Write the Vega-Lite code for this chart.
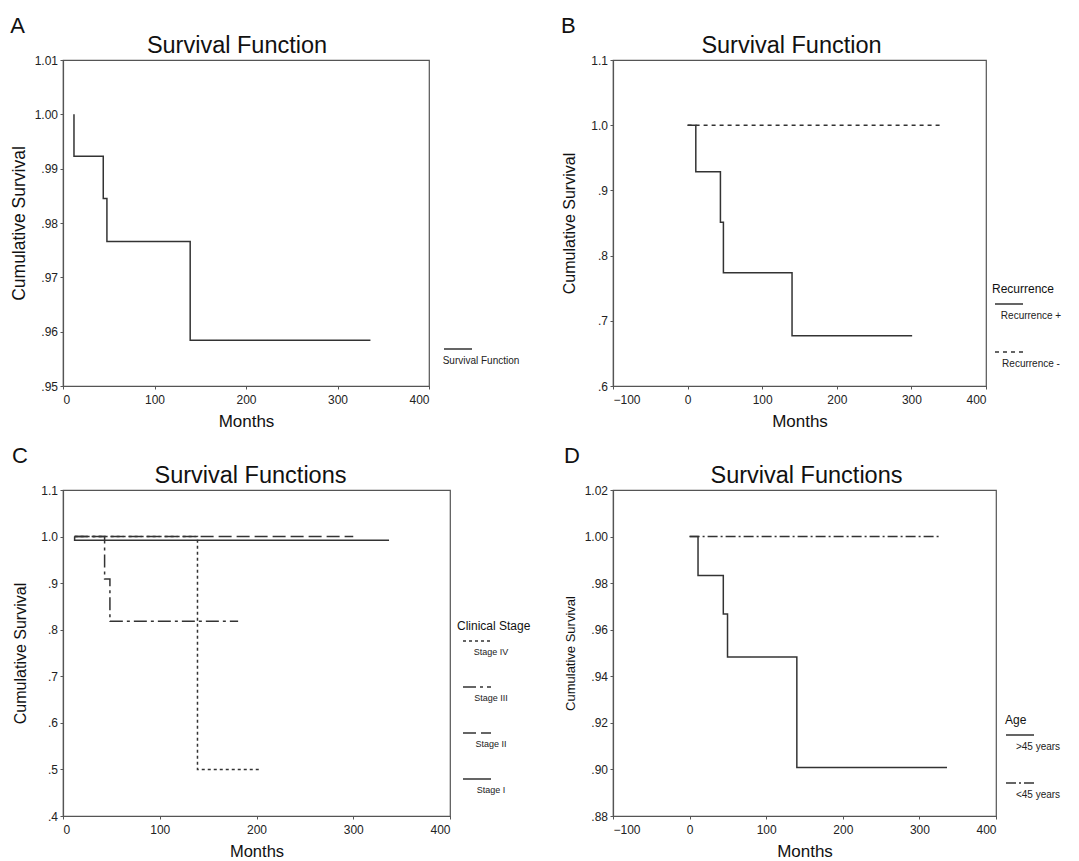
{
  "$schema": "https://vega.github.io/schema/vega-lite/v6.json",
  "background": "white",
  "padding": {"left": 10, "top": 14, "right": 0, "bottom": 0},
  "config": {
    "font": "Liberation Sans",
    "view": {"stroke": "#555", "strokeWidth": 1.2},
    "axis": {"grid": false, "domainColor": "#555", "domainWidth": 1.2, "tickColor": "#555", "tickSize": 3, "labelColor": "#222", "labelFontSize": 12, "labelFont": "Liberation Sans", "titleFont": "Liberation Sans", "titleFontWeight": "normal", "titleColor": "#111"},
    "axisY": {"labelPadding": 2.5, "minExtent": 30, "maxExtent": 30},
    "axisX": {"labelPadding": 5.5, "minExtent": 21, "maxExtent": 21, "titlePadding": 6.5},
    "title": {"font": "Liberation Sans", "fontWeight": "normal", "color": "#111", "fontSize": 23.5},
    "legend": {"labelFont": "Liberation Sans", "labelFontSize": 10, "labelColor": "#222", "titleFont": "Liberation Sans", "titleFontSize": 12, "titleFontWeight": "normal", "titleColor": "#111", "symbolType": "stroke", "symbolSize": 784, "symbolStrokeWidth": 1.5, "symbolStrokeColor": "#333", "labelAlign": "center", "labelBaseline": "middle", "orient": "none", "rowPadding": 4, "titlePadding": -7}
  },
  "resolve": {"scale": {"strokeDash": "independent"}, "legend": {"strokeDash": "independent"}},
  "datasets": {
    "a": [
      {"months": 12, "survival": 1.0, "group": "Survival Function", "i": 0},
      {"months": 12, "survival": 0.9923, "group": "Survival Function", "i": 1},
      {"months": 44, "survival": 0.9845, "group": "Survival Function", "i": 2},
      {"months": 48, "survival": 0.9766, "group": "Survival Function", "i": 3},
      {"months": 139, "survival": 0.9584, "group": "Survival Function", "i": 4},
      {"months": 336, "survival": 0.9584, "group": "Survival Function", "i": 5}
    ],
    "b": [
      {"months": 0, "survival": 1.0, "group": "Recurrence +", "i": 0},
      {"months": 11, "survival": 0.9286, "group": "Recurrence +", "i": 1},
      {"months": 44, "survival": 0.8512, "group": "Recurrence +", "i": 2},
      {"months": 48, "survival": 0.7738, "group": "Recurrence +", "i": 3},
      {"months": 140, "survival": 0.6771, "group": "Recurrence +", "i": 4},
      {"months": 301, "survival": 0.6771, "group": "Recurrence +", "i": 5},
      {"months": 0, "survival": 1.0, "group": "Recurrence -", "i": 0},
      {"months": 339, "survival": 1.0, "group": "Recurrence -", "i": 1}
    ],
    "c": [
      {"months": 12, "survival": 1.0, "group": "Stage I", "i": 0},
      {"months": 12, "survival": 0.992, "group": "Stage I", "i": 1},
      {"months": 337, "survival": 0.992, "group": "Stage I", "i": 2},
      {"months": 12, "survival": 1.0, "group": "Stage II", "i": 0},
      {"months": 300, "survival": 1.0, "group": "Stage II", "i": 1},
      {"months": 12, "survival": 1.0, "group": "Stage III", "i": 0},
      {"months": 43, "survival": 0.909, "group": "Stage III", "i": 1},
      {"months": 48.5, "survival": 0.818, "group": "Stage III", "i": 2},
      {"months": 181, "survival": 0.818, "group": "Stage III", "i": 3},
      {"months": 12, "survival": 1.0, "group": "Stage IV", "i": 0},
      {"months": 139, "survival": 0.5, "group": "Stage IV", "i": 1},
      {"months": 205, "survival": 0.5, "group": "Stage IV", "i": 2}
    ],
    "d": [
      {"months": 0, "survival": 1.0, "group": ">45 years", "i": 0},
      {"months": 11, "survival": 0.9833, "group": ">45 years", "i": 1},
      {"months": 44, "survival": 0.9667, "group": ">45 years", "i": 2},
      {"months": 49.5, "survival": 0.9483, "group": ">45 years", "i": 3},
      {"months": 140, "survival": 0.9008, "group": ">45 years", "i": 4},
      {"months": 336, "survival": 0.9008, "group": ">45 years", "i": 5},
      {"months": 0, "survival": 1.0, "group": "<45 years", "i": 0},
      {"months": 326, "survival": 1.0, "group": "<45 years", "i": 1}
    ]
  },
  "columns": 2,
  "spacing": {"row": 13, "column": 30},
  "concat": [
    {
      "title": {"text": "A", "anchor": "start", "frame": "bounds", "fontSize": 22, "offset": -5},
      "vconcat": [
        {
          "width": 366, "height": 326,
          "title": {"text": "Survival Function", "dx": -9, "offset": -3},
          "data": {"name": "a"},
          "mark": {"type": "line", "interpolate": "step-after", "color": "#333", "strokeWidth": 1.5},
          "encoding": {
            "x": {"field": "months", "type": "quantitative", "scale": {"domain": [0, 400], "nice": false, "zero": false}, "axis": {"values": [0, 100, 200, 300, 400], "format": "d", "title": "Months", "titleFontSize": 17}},
            "y": {"field": "survival", "type": "quantitative", "scale": {"domain": [0.95, 1.01], "nice": false, "zero": false}, "axis": {"values": [0.95, 0.96, 0.97, 0.98, 0.99, 1.0, 1.01], "labelExpr": "datum.value >= 1 ? format(datum.value, '.2f') : substring(format(datum.value, '.2f'), 1)", "title": "Cumulative Survival", "titleFontSize": 17.5, "titlePadding": 4.2}},
            "strokeDash": {"field": "group", "type": "nominal", "scale": {"domain": ["Survival Function"], "range": [[1, 0]]}, "legend": {"title": null, "legendX": 380, "legendY": 274, "labelOffset": 8, "labelExpr": "['', '', datum.label]"}},
            "order": {"field": "i"}
          }
        }
      ]
    },
    {
      "title": {"text": "B", "anchor": "start", "frame": "bounds", "fontSize": 22, "offset": -5},
      "vconcat": [
        {
          "width": 373, "height": 326,
          "title": {"text": "Survival Function", "dx": -8, "offset": -3},
          "data": {"name": "b"},
          "mark": {"type": "line", "interpolate": "step-after", "color": "#333", "strokeWidth": 1.5},
          "encoding": {
            "x": {"field": "months", "type": "quantitative", "scale": {"domain": [-100, 400], "nice": false, "zero": false}, "axis": {"values": [-100, 0, 100, 200, 300, 400], "format": "d", "title": "Months", "titleFontSize": 17}},
            "y": {"field": "survival", "type": "quantitative", "scale": {"domain": [0.6, 1.1], "nice": false, "zero": false}, "axis": {"values": [0.6, 0.7, 0.8, 0.9, 1.0, 1.1], "labelExpr": "datum.value >= 1 ? format(datum.value, '.1f') : substring(format(datum.value, '.1f'), 1)", "title": "Cumulative Survival", "titleFontSize": 16, "titlePadding": 5.3}},
            "strokeDash": {"field": "group", "type": "nominal", "scale": {"domain": ["Recurrence +", "Recurrence -"], "range": [[1, 0], [4, 4]]}, "legend": {"title": "Recurrence", "legendX": 379, "legendY": 224, "symbolOffset": 2, "labelOffset": 7, "labelExpr": "['', '', datum.label]"}},
            "order": {"field": "i"}
          }
        }
      ]
    },
    {
      "title": {"text": "C", "anchor": "start", "frame": "bounds", "fontSize": 22, "offset": -5},
      "vconcat": [
        {
          "width": 387, "height": 326,
          "title": {"text": "Survival Functions", "dx": -6, "offset": -3},
          "data": {"name": "c"},
          "mark": {"type": "line", "interpolate": "step-after", "color": "#333", "strokeWidth": 1.5},
          "encoding": {
            "x": {"field": "months", "type": "quantitative", "scale": {"domain": [0, 400], "nice": false, "zero": false}, "axis": {"values": [0, 100, 200, 300, 400], "format": "d", "title": "Months", "titleFontSize": 16.5}},
            "y": {"field": "survival", "type": "quantitative", "scale": {"domain": [0.4, 1.1], "nice": false, "zero": false}, "axis": {"values": [0.4, 0.5, 0.6, 0.7, 0.8, 0.9, 1.0, 1.1], "labelExpr": "datum.value >= 1 ? format(datum.value, '.1f') : substring(format(datum.value, '.1f'), 1)", "title": "Cumulative Survival", "titleFontSize": 16, "titlePadding": 4.3}},
            "strokeDash": {"field": "group", "type": "nominal", "scale": {"domain": ["Stage IV", "Stage III", "Stage II", "Stage I"], "range": [[3, 3], [13, 4, 3, 4], [13, 5], [1, 0]]}, "legend": {"title": "Clinical Stage", "legendX": 394, "legendY": 131, "symbolOffset": 5, "labelFontSize": 9, "labelOffset": -1, "labelExpr": "['', '', datum.label]"}},
            "order": {"field": "i"}
          }
        }
      ]
    },
    {
      "title": {"text": "D", "anchor": "start", "frame": "bounds", "fontSize": 22, "offset": -5},
      "vconcat": [
        {
          "width": 383, "height": 326,
          "title": {"text": "Survival Functions", "dx": 2, "offset": -3},
          "data": {"name": "d"},
          "mark": {"type": "line", "interpolate": "step-after", "color": "#333", "strokeWidth": 1.5},
          "encoding": {
            "x": {"field": "months", "type": "quantitative", "scale": {"domain": [-100, 400], "nice": false, "zero": false}, "axis": {"values": [-100, 0, 100, 200, 300, 400], "format": "d", "title": "Months", "titleFontSize": 17}},
            "y": {"field": "survival", "type": "quantitative", "scale": {"domain": [0.88, 1.02], "nice": false, "zero": false}, "axis": {"values": [0.88, 0.9, 0.92, 0.94, 0.96, 0.98, 1.0, 1.02], "labelExpr": "datum.value >= 1 ? format(datum.value, '.2f') : substring(format(datum.value, '.2f'), 1)", "title": "Cumulative Survival", "titleFontSize": 13, "titlePadding": 5.4}},
            "strokeDash": {"field": "group", "type": "nominal", "scale": {"domain": [">45 years", "<45 years"], "range": [[1, 0], [10, 3, 2, 3]]}, "legend": {"title": "Age", "legendX": 392, "legendY": 225, "labelOffset": 3, "labelExpr": "['', '', datum.label]"}},
            "order": {"field": "i"}
          }
        }
      ]
    }
  ]
}
